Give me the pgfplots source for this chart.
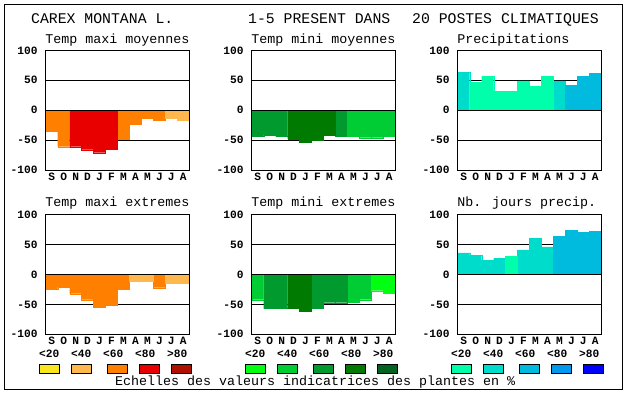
\documentclass[border=0pt]{standalone}
\usepackage{pgfplots}
\pgfplotsset{compat=1.18}
\usepackage{fontspec}
\setmainfont{Liberation Mono}
\newcommand\fsub{\fontsize{13.33}{14}\selectfont}
\newcommand\ftitle{\fontsize{14.8}{16}\selectfont}
\newcommand\ftick{\fontsize{11.2}{12}\selectfont\bfseries}
\definecolor{cyel}{HTML}{FAE61E}
\definecolor{clor}{HTML}{FFB84D}
\definecolor{cor}{HTML}{FF8000}
\definecolor{cred}{HTML}{E80000}
\definecolor{cdred}{HTML}{B01000}
\definecolor{gA}{HTML}{00FF10}
\definecolor{gB}{HTML}{00CC33}
\definecolor{gC}{HTML}{009A2E}
\definecolor{gD}{HTML}{007A00}
\definecolor{gE}{HTML}{006420}
\definecolor{cA}{HTML}{00FFAA}
\definecolor{cB}{HTML}{00DCCC}
\definecolor{cC}{HTML}{00BBDD}
\definecolor{cD}{HTML}{0099EE}
\definecolor{cE}{HTML}{0000FF}
\pgfplotsset{
  panel/.style={
    width=143.6pt, height=119.6pt, scale only axis, anchor=south west,
    xmin=-0.5, xmax=11.5, ymin=-100, ymax=100,
    xtick={0,...,11}, xticklabels={S,O,N,D,J,F,M,A,M,J,J,A},
    ytick={-100,-50,0,50,100}, yticklabels={-100,-50,0,50,100},
    major tick length=0pt,
    tick label style={font=\ftick, inner sep=0pt},
    xticklabel style={anchor=base, yshift=-10.3pt},
    yticklabel style={anchor=east, xshift=-8pt},
    ymajorgrids, grid style={black, line width=0.9pt},
    axis line style={black, line width=0.9pt},
    after end axis/.code={
      \draw[black, line width=0.9pt] (axis cs:-0.5,0) -- (axis cs:11.5,0);
      \draw[black, line width=0.9pt] (rel axis cs:0,0) rectangle (rel axis cs:1,1);
    },
  },
  bars/.style={ybar, bar width=1, bar shift=0pt, fill=#1, draw=#1, line width=0.2pt},
}
\begin{document}
\begin{tikzpicture}[x=1pt,y=1pt]
\useasboundingbox (0,0) rectangle (630,394);
\draw[line width=1.2pt] (4.7,389.7) rectangle (622.7,4.7);
% titles
\node[anchor=base west, inner sep=0pt, font=\ftitle] at (31,370.7) {CAREX MONTANA L.};
\node[anchor=base west, inner sep=0pt, font=\ftitle] at (248,370.7) {1-5 PRESENT DANS};
\node[anchor=base west, inner sep=0pt, font=\ftitle] at (412,370.7) {20 POSTES CLIMATIQUES};
% subtitles
\node[anchor=base west, inner sep=0pt, font=\fsub] at (45.2,350.7) {Temp maxi moyennes};
\node[anchor=base west, inner sep=0pt, font=\fsub] at (251.2,350.7) {Temp mini moyennes};
\node[anchor=base west, inner sep=0pt, font=\fsub] at (457.2,350.7) {Precipitations};
\node[anchor=base west, inner sep=0pt, font=\fsub] at (45.2,187.3) {Temp maxi extremes};
\node[anchor=base west, inner sep=0pt, font=\fsub] at (251.2,187.3) {Temp mini extremes};
\node[anchor=base west, inner sep=0pt, font=\fsub] at (457.2,187.3) {Nb. jours precip.};

% Panel 1
\begin{axis}[panel, at={(45.7pt,224pt)}]
\addplot[bars=cor] coordinates {(0,-35) (1,-61) (6,-48) (7,-23) (8,-13) (9,-16)};
\addplot[bars=cred] coordinates {(2,-61) (3,-66) (4,-71) (5,-65)};
\addplot[bars=clor] coordinates {(10,-13) (11,-16)};
\end{axis}
% Panel 2
\begin{axis}[panel, at={(251.7pt,224pt)}]
\addplot[bars=gC] coordinates {(0,-44) (1,-42) (2,-44) (7,-44)};
\addplot[bars=gD] coordinates {(3,-48) (4,-53) (5,-50) (6,-42)};
\addplot[bars=gB] coordinates {(8,-44) (9,-46) (10,-46) (11,-43)};
\end{axis}
% Panel 3
\begin{axis}[panel, at={(457.7pt,224pt)}]
\addplot[bars=cB] coordinates {(0,63) (8,49)};
\addplot[bars=cA] coordinates {(1,47) (2,57) (3,32) (4,32) (5,49) (6,40) (7,57)};
\addplot[bars=cC] coordinates {(9,42) (10,57) (11,62)};
\end{axis}
% Panel 4
\begin{axis}[panel, at={(45.7pt,59.7pt)}]
\addplot[bars=cor] coordinates {(0,-24) (1,-21) (2,-32) (3,-42) (4,-54) (5,-52) (6,-25) (9,-22)};
\addplot[bars=clor] coordinates {(7,-11) (8,-11) (10,-14) (11,-14)};
\end{axis}
% Panel 5
\begin{axis}[panel, at={(251.7pt,59.7pt)}]
\addplot[bars=gB] coordinates {(0,-42) (8,-46) (9,-42)};
\addplot[bars=gC] coordinates {(1,-57) (2,-57) (5,-57) (6,-47) (7,-47)};
\addplot[bars=gD] coordinates {(3,-57) (4,-62)};
\addplot[bars=gA] coordinates {(10,-27) (11,-31)};
\end{axis}
% Panel 6
\begin{axis}[panel, at={(457.7pt,59.7pt)}]
\addplot[bars=cB] coordinates {(0,36) (1,32) (2,24) (3,27) (5,41) (6,61) (7,46)};
\addplot[bars=cA] coordinates {(4,30)};
\addplot[bars=cC] coordinates {(8,64) (9,74) (10,71) (11,72)};
\end{axis}

% legends
\foreach \x in {45.7,251.7,457.7}{
  \foreach \lab [count=\i from 0] in {<20,<40,<60,<80,>80}{
    \node[anchor=base, inner sep=0pt, font=\ftick] at ({\x+3.5+32*\i},36.3) {\lab};
  }
}
\def\legboxes#1#2#3#4#5#6{%
  \fill[#2] ({#1+3.5-10},21) rectangle ({#1+3.5+10},29.7);
  \fill[#3] ({#1+35.5-10},21) rectangle ({#1+35.5+10},29.7);
  \fill[#4] ({#1+71.5-10},21) rectangle ({#1+71.5+10},29.7);
  \fill[#5] ({#1+103.5-10},21) rectangle ({#1+103.5+10},29.7);
  \fill[#6] ({#1+135.5-10},21) rectangle ({#1+135.5+10},29.7);
  \foreach \o in {3.5,35.5,71.5,103.5,135.5}{\draw[line width=0.9pt] ({#1+\o-10},21) rectangle ({#1+\o+10},29.7);}
}
\legboxes{45.7}{cyel}{clor}{cor}{cred}{cdred}
\legboxes{251.7}{gA}{gB}{gC}{gD}{gE}
\legboxes{457.7}{cA}{cB}{cC}{cD}{cE}
\node[anchor=base west, inner sep=0pt, font=\fsub] at (115,8) {Echelles des valeurs indicatrices des plantes en \%};
\end{tikzpicture}
\end{document}
